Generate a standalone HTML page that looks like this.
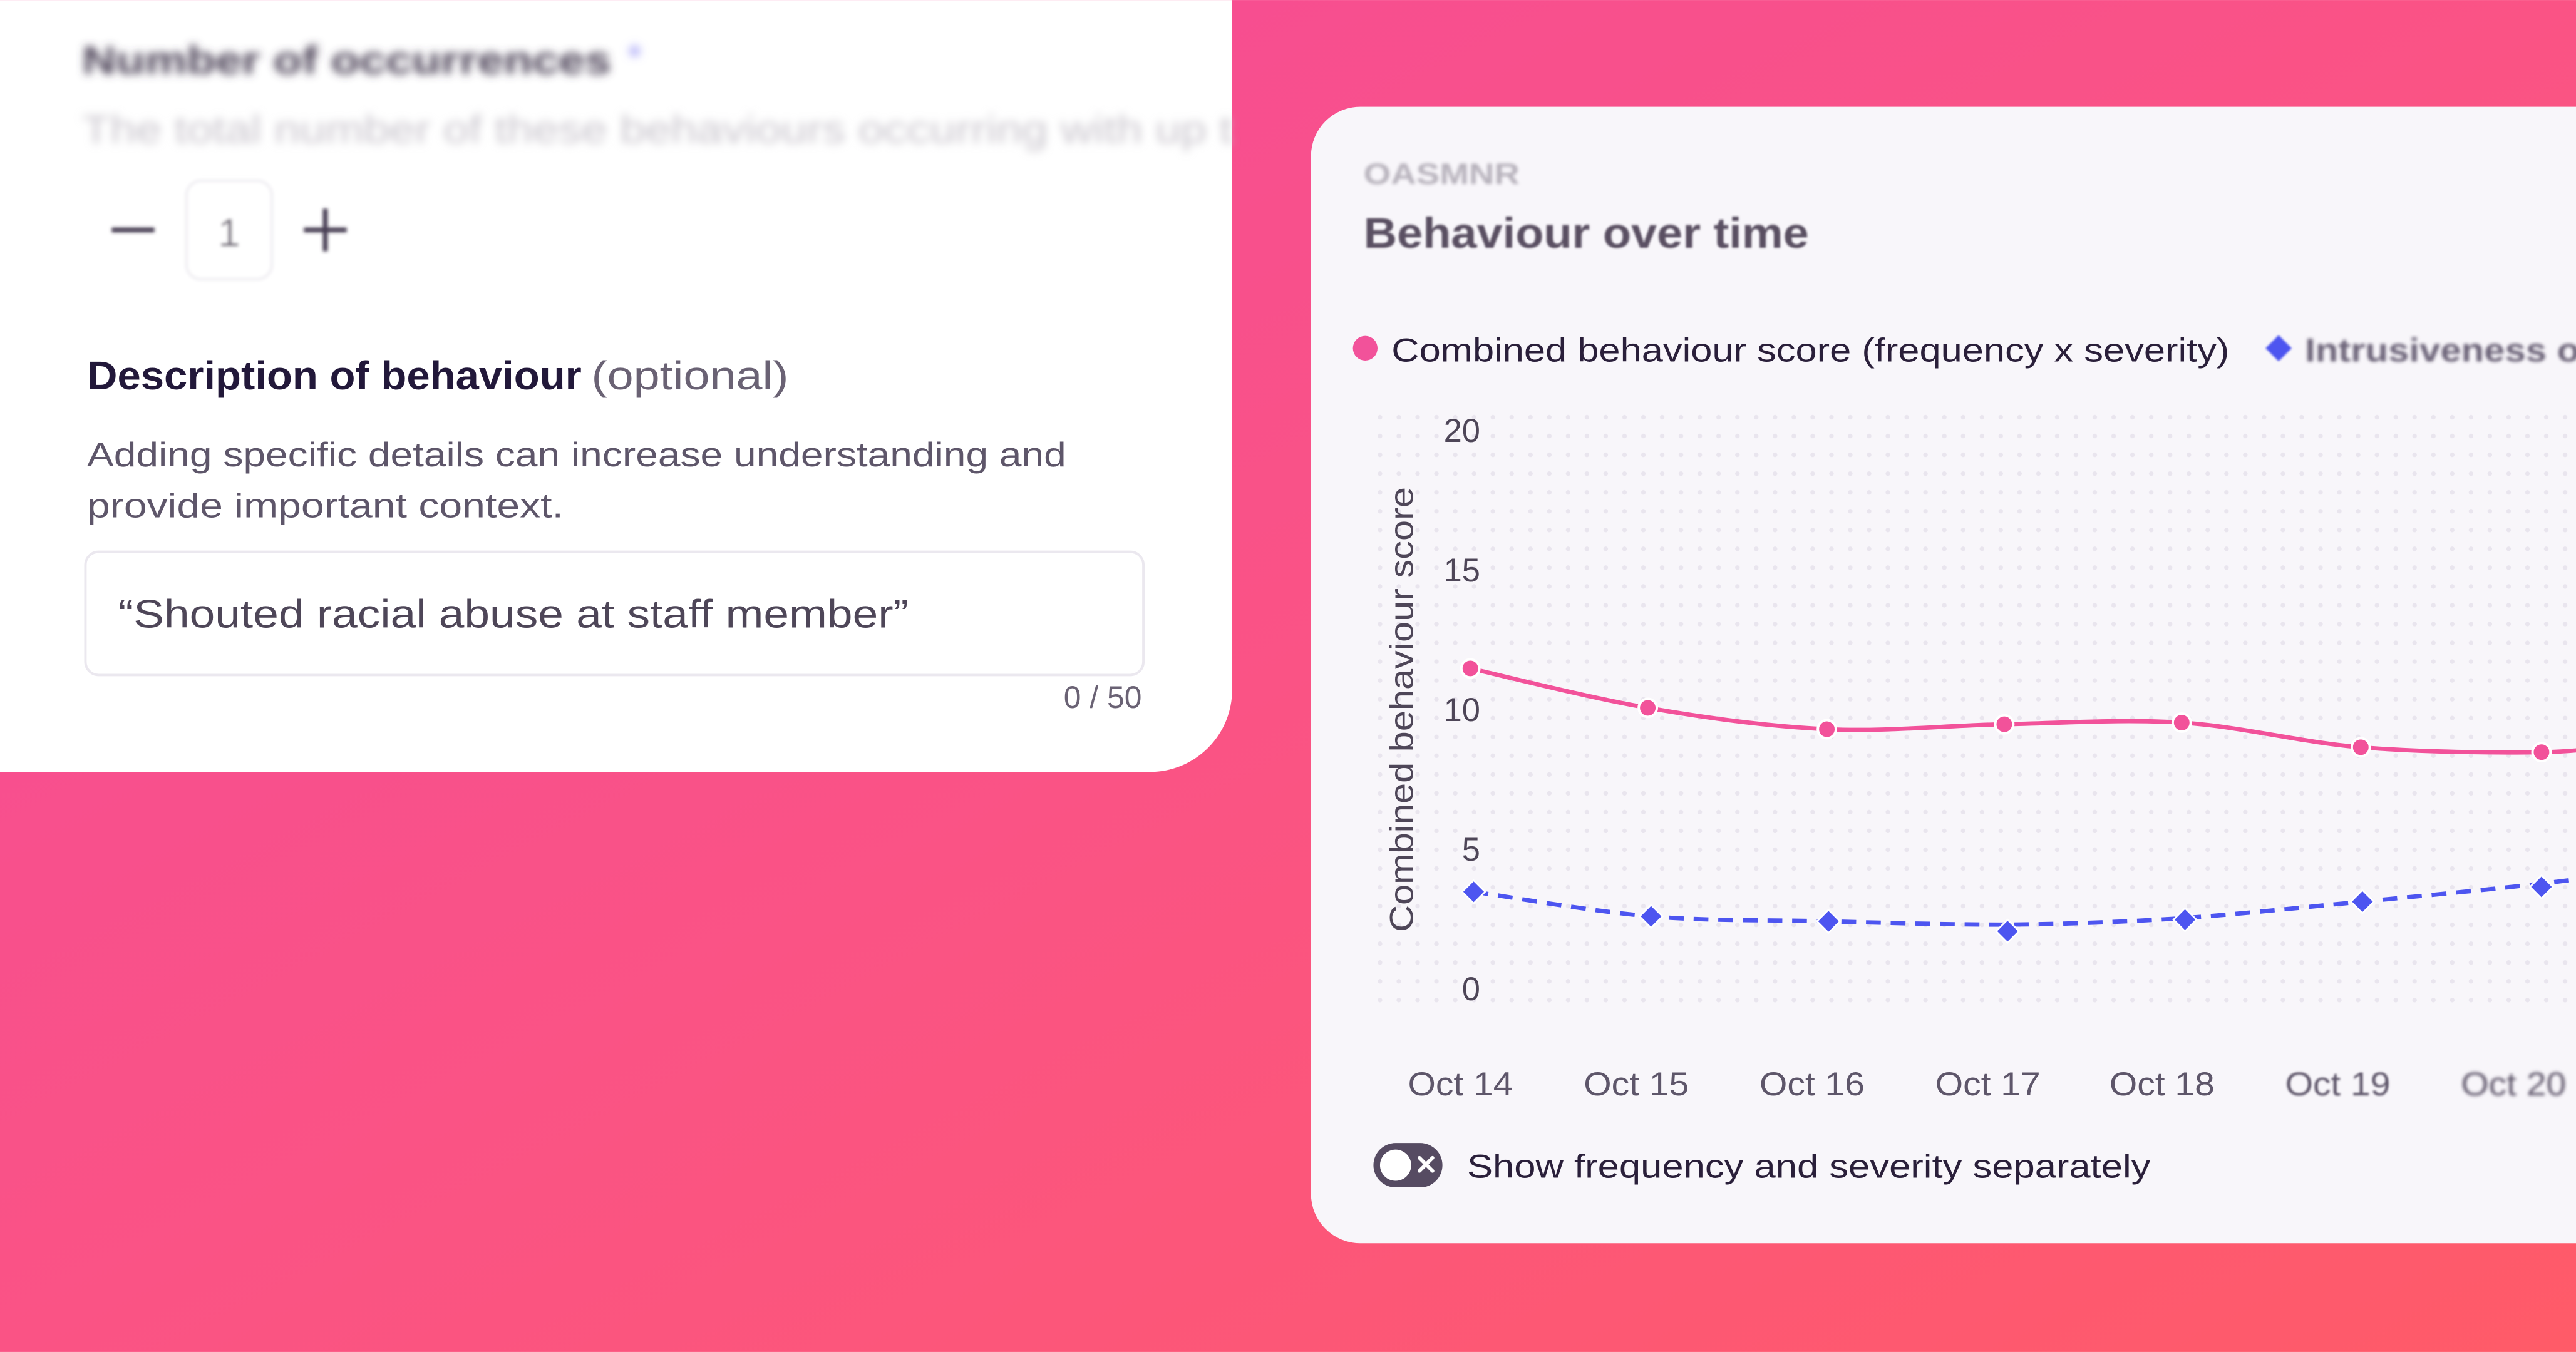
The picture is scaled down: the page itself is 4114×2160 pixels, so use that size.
<!DOCTYPE html>
<html><head><meta charset="utf-8"><style>
html,body{margin:0;padding:0;width:4114px;height:2160px;overflow:hidden}
svg{display:block}
text{font-family:"Liberation Sans",sans-serif}
</style></head><body>
<svg width="4114" height="2160" viewBox="0 0 1568 823.2" xmlns="http://www.w3.org/2000/svg">
<defs>
<linearGradient id="bg" x1="0" y1="0" x2="1" y2="1">
<stop offset="0" stop-color="#f44a9a"/>
<stop offset="0.5" stop-color="#fa5385"/>
<stop offset="1" stop-color="#ff5b68"/>
</linearGradient>
<pattern id="dots" x="838" y="252" width="11.45" height="11.45" patternUnits="userSpaceOnUse">
<circle cx="2" cy="2" r="1.4" fill="#e9e5ee"/>
</pattern>
<filter id="b3"><feGaussianBlur stdDeviation="2.6"/></filter>
<filter id="b1"><feGaussianBlur stdDeviation="1"/></filter>
<filter id="b05"><feGaussianBlur stdDeviation="0.6"/></filter>
</defs>
<rect width="1568" height="823.2" fill="url(#bg)"/>

<!-- left card -->
<path d="M0 0 H750 V420 A50 50 0 0 1 700 470 H0 Z" fill="#ffffff"/>
<g filter="url(#b3)">
<text x="50" y="45" font-size="24" font-weight="bold" fill="#4a4054" textLength="322" lengthAdjust="spacingAndGlyphs">Number of occurrences</text>
<text x="382" y="42" font-size="22" fill="#8f8cf5">*</text>
<text x="50" y="87" font-size="24" fill="#c8c4cc" textLength="700" lengthAdjust="spacingAndGlyphs">The total number of these behaviours occurring with up t</text>
</g>
<g filter="url(#b1)">
<rect x="68" y="138.5" width="26" height="3" fill="#4a4054"/>
<rect x="113.5" y="110" width="52" height="60" rx="9" fill="#fff" stroke="#eeecf1" stroke-width="1.5"/>
<text x="139.5" y="150" font-size="24" fill="#6a6272" text-anchor="middle">1</text>
<rect x="185" y="138.5" width="26" height="3" fill="#4a4054"/>
<rect x="196.5" y="127" width="3" height="26" fill="#4a4054"/>
</g>
<text x="53" y="237" font-size="24.5" font-weight="bold" fill="#22183a" textLength="301" lengthAdjust="spacingAndGlyphs">Description of behaviour</text>
<text x="360" y="237" font-size="24.5" fill="#6a6274" textLength="120" lengthAdjust="spacingAndGlyphs">(optional)</text>
<text x="53" y="284" font-size="21" fill="#5e566a" textLength="596" lengthAdjust="spacingAndGlyphs">Adding specific details can increase understanding and</text>
<text x="53" y="315" font-size="21" fill="#5e566a" textLength="290" lengthAdjust="spacingAndGlyphs">provide important context.</text>
<rect x="52" y="336" width="644" height="75" rx="8" fill="#fff" stroke="#ebe8ef" stroke-width="1.5"/>
<text x="72" y="382" font-size="24" fill="#4e4658" textLength="481" lengthAdjust="spacingAndGlyphs">“Shouted racial abuse at staff member”</text>
<text x="695" y="431" font-size="19" fill="#6a6274" text-anchor="end">0 / 50</text>

<!-- right card -->
<rect x="798" y="65" width="820" height="692" rx="30" fill="#f8f6fa"/>
<text x="830" y="112" font-size="18" font-weight="bold" fill="#b7b2bc" filter="url(#b1)" textLength="95" lengthAdjust="spacingAndGlyphs">OASMNR</text>
<text x="830" y="151" font-size="26" font-weight="bold" fill="#5a5062" filter="url(#b05)" textLength="271" lengthAdjust="spacingAndGlyphs">Behaviour over time</text>

<circle cx="831" cy="212" r="7.5" fill="#f2529a"/>
<text x="847" y="220" font-size="20" fill="#2a1f3a" textLength="510" lengthAdjust="spacingAndGlyphs">Combined behaviour score (frequency x severity)</text>
<path d="M1387 204 L1395 212 L1387 220 L1379 212 Z" fill="#4d55f0" filter="url(#b05)"/>
<text x="1403" y="220" font-size="20" font-weight="bold" fill="#6c6478" filter="url(#b1)" textLength="175" lengthAdjust="spacingAndGlyphs">Intrusiveness of</text>

<rect x="836" y="250" width="740" height="362" fill="url(#dots)"/>

<g font-size="20" fill="#4e4658" text-anchor="end">
<text x="901" y="269">20</text>
<text x="901" y="354">15</text>
<text x="901" y="439">10</text>
<text x="901" y="524">5</text>
<text x="901" y="609">0</text>
</g>
<text transform="translate(860 432) rotate(-90)" font-size="20" fill="#4e4658" text-anchor="middle" textLength="271" lengthAdjust="spacingAndGlyphs">Combined behaviour score</text>

<path d="M895 407 C913 411 966.8 424.8 1003 431 C1039.2 437.2 1075.8 442.3 1112 444 C1148.2 445.7 1184 441.7 1220 441 C1256 440.3 1291.8 437.7 1328 440 C1364.2 442.3 1400.5 452 1437 455 C1473.5 458 1519.8 458.5 1547 458 C1574.2 457.5 1590 454 1600 452" fill="none" stroke="#f2529a" stroke-width="2.6"/>
<g fill="#f2529a" stroke="#fff" stroke-width="1.5">
<circle cx="895" cy="407" r="5.5"/><circle cx="1003" cy="431" r="5.5"/><circle cx="1112" cy="444" r="5.5"/><circle cx="1220" cy="441" r="5.5"/><circle cx="1328" cy="440" r="5.5"/><circle cx="1437" cy="455" r="5.5"/><circle cx="1547" cy="458" r="5.5"/>
</g>
<path d="M897 543 C915 545.5 969 555 1005 558 C1041 561 1076.8 560 1113 561 C1149.2 562 1185.8 563 1222 563 C1258.2 562.7 1294 561.3 1330 559 C1366 556.3 1401.8 552.5 1438 549 C1474.2 545.5 1520 541.2 1547 538 C1574 535 1590 532 1600 530" fill="none" stroke="#4d55f0" stroke-width="2.6" stroke-dasharray="9 6"/>
<g fill="#4d55f0" stroke="#fff" stroke-width="1">
<path d="M897 536 L904 543 L897 550 L890 543 Z"/>
<path d="M1005 551 L1012 558 L1005 565 L998 558 Z"/>
<path d="M1113 554 L1120 561 L1113 568 L1106 561 Z"/>
<path d="M1222 560 L1229 567 L1222 574 L1215 567 Z"/>
<path d="M1330 553 L1337 560 L1330 567 L1323 560 Z"/>
<path d="M1438 542 L1445 549 L1438 556 L1431 549 Z"/>
<path d="M1547 533 L1554 540 L1547 547 L1540 540 Z"/>
</g>

<g font-size="20" fill="#5e566a" text-anchor="middle">
<text x="889" y="667" textLength="64" lengthAdjust="spacingAndGlyphs">Oct 14</text>
<text x="996" y="667" textLength="64" lengthAdjust="spacingAndGlyphs">Oct 15</text>
<text x="1103" y="667" textLength="64" lengthAdjust="spacingAndGlyphs">Oct 16</text>
<text x="1210" y="667" textLength="64" lengthAdjust="spacingAndGlyphs">Oct 17</text>
<text x="1316" y="667" textLength="64" lengthAdjust="spacingAndGlyphs">Oct 18</text>
<text x="1423" y="667" filter="url(#b05)" textLength="64" lengthAdjust="spacingAndGlyphs">Oct 19</text>
<text x="1530" y="667" filter="url(#b1)" textLength="64" lengthAdjust="spacingAndGlyphs">Oct 20</text>
</g>

<rect x="836" y="696" width="42" height="27" rx="13.5" fill="#564b62"/>
<circle cx="849.5" cy="709.5" r="9.5" fill="#fff"/>
<path d="M864 705 L872 713 M872 705 L864 713" stroke="#fff" stroke-width="2.2" stroke-linecap="round"/>
<text x="893" y="717" font-size="20" fill="#2a1f3a" textLength="416" lengthAdjust="spacingAndGlyphs">Show frequency and severity separately</text>
</svg>
</body></html>
